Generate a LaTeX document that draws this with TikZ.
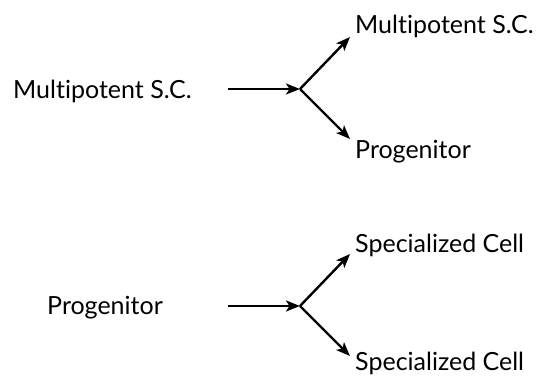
\documentclass[tikz,border=0pt]{standalone}
\usepackage{fontspec}
\setmainfont[Ligatures=NoCommon]{Lato}
\usetikzlibrary{arrows.meta}
\begin{document}
\begin{tikzpicture}[x=1pt,y=-1pt,
  lbl/.style={inner sep=0pt,font=\fontsize{25}{28}\selectfont,anchor=base west},
  arr/.style={line width=2.4pt,-{Stealth[length=14pt,width=11pt,inset=3.5pt]}}]
\useasboundingbox (0,0) rectangle (545,381);
% top group
\node[lbl] (a) at (13,98) {Multipotent S.C.};
\node[lbl] (a1) at (355,33) {Multipotent S.C.};
\node[lbl] (a2) at (355,158) {Progenitor};
\coordinate (as) at (228,89);
\coordinate (af) at (300,89);
\coordinate (at1) at (350,37);
\coordinate (at2) at (350,139);
\draw[arr] (as) -- (af);
\draw[arr] (af) -- (at1);
\draw[arr] (af) -- (at2);
% bottom group
\node[lbl] (b) at (47,314) {Progenitor};
\node[lbl] (b1) at (355,252) {Specialized Cell};
\node[lbl] (b2) at (355,370) {Specialized Cell};
\coordinate (bs) at (228,306);
\coordinate (bf) at (300,306);
\coordinate (bt1) at (350,254);
\coordinate (bt2) at (350,356);
\draw[arr] (bs) -- (bf);
\draw[arr] (bf) -- (bt1);
\draw[arr] (bf) -- (bt2);
\end{tikzpicture}
\end{document}
